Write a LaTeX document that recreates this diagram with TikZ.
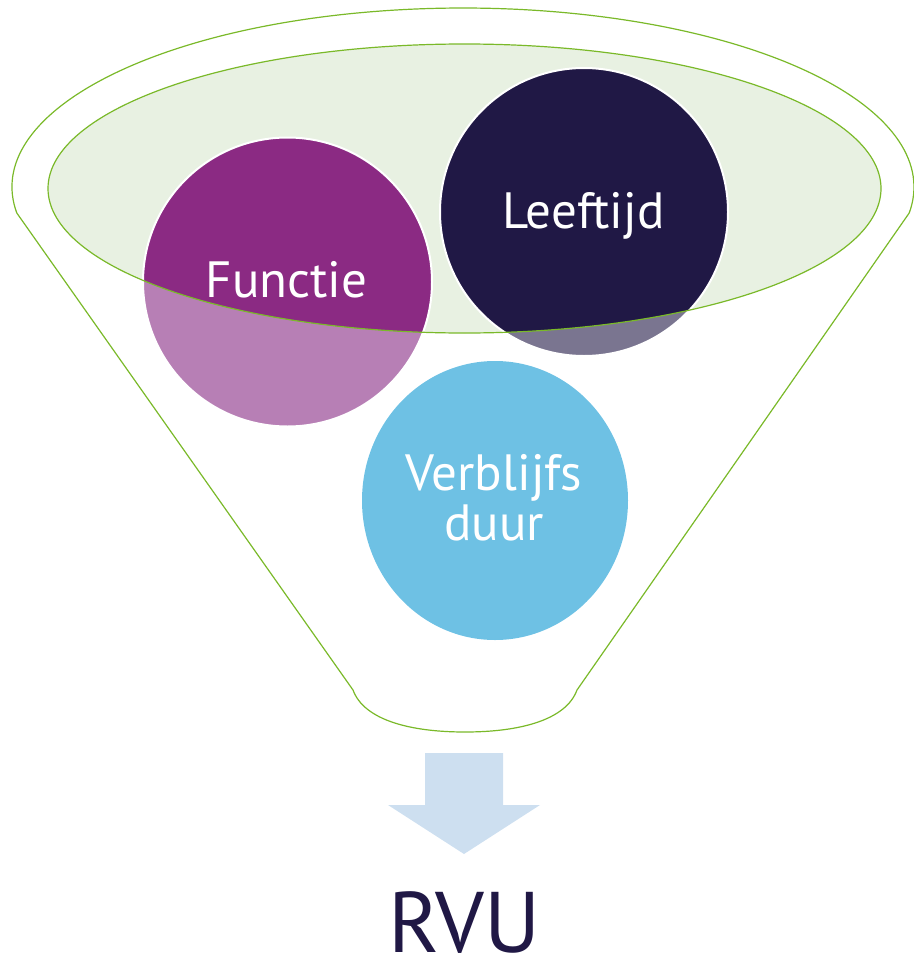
\documentclass[tikz,border=0pt]{standalone}
\usepackage{fontspec}
\setmainfont{PT Sans}
\definecolor{fgreen}{RGB}{122,185,41}
\definecolor{egreen}{RGB}{232,241,226}
\definecolor{fundark}{RGB}{139,42,131}
\definecolor{funlight}{RGB}{183,127,181}
\definecolor{leedark}{RGB}{32,24,69}
\definecolor{leelight}{RGB}{122,117,144}
\definecolor{verbl}{RGB}{110,193,228}
\definecolor{arrowblue}{RGB}{205,223,240}
\begin{document}
\begin{tikzpicture}[x=1pt,y=-1pt,
  funnelline/.style={draw=fgreen, line width=1.2pt, line join=round},
  rim/.style={draw=white, line width=2pt},
  lbl/.style={text=white, inner sep=0pt, anchor=base, font=\fontsize{51}{60}\selectfont}]
\useasboundingbox (0,0) rectangle (913,961);
% funnel outline
\draw[funnelline] (353,690) -- (16.8,213)
  arc[start angle=171.65, end angle=368.35, x radius=451, y radius=179]
  -- (577,690) .. controls (566,720) and (520,732) .. (465,732)
  .. controls (410,732) and (364,720) .. (353,690) -- cycle;
% inner ellipse
\fill[egreen] (464.5,188.5) ellipse [x radius=416.5, y radius=144.5];
% circles, light parts
\fill[funlight] (287.5,282) circle [radius=144.5];
\fill[leelight] (584,212) circle [radius=144];
\fill[verbl] (495,500.5) ellipse [x radius=133, y radius=139.5];
% dark parts inside the ellipse
\begin{scope}
  \clip (464.5,188.5) ellipse [x radius=416.5, y radius=144.5];
  \fill[fundark] (287.5,282) circle [radius=144.5];
  \fill[leedark] (584,212) circle [radius=144];
\end{scope}
\draw[rim] (287.5,282) circle [radius=144.5];
\draw[rim] (584,212) circle [radius=144];
\draw[funnelline] (464.5,188.5) ellipse [x radius=416.5, y radius=144.5];
% labels
\node[lbl] (functie) at (286.5,297) {Functie};
\node[lbl] (leeftijd) at (583.5,228) {Leeftijd};
\node[lbl] (verblijfs) at (494,490) {Verblijfs};
\node[lbl] (duur) at (494,540) {duur};
% arrow
\fill[arrowblue] (425,753) -- (503,753) -- (503,805) -- (540,805) -- (464,854)
  -- (388,805) -- (425,805) -- cycle;
\node[text=leedark, inner sep=0pt, anchor=base, text depth=0pt, font=\fontsize{86}{86}\selectfont] (rvu) at (464.5,952) {RVU};
\end{tikzpicture}
\end{document}
